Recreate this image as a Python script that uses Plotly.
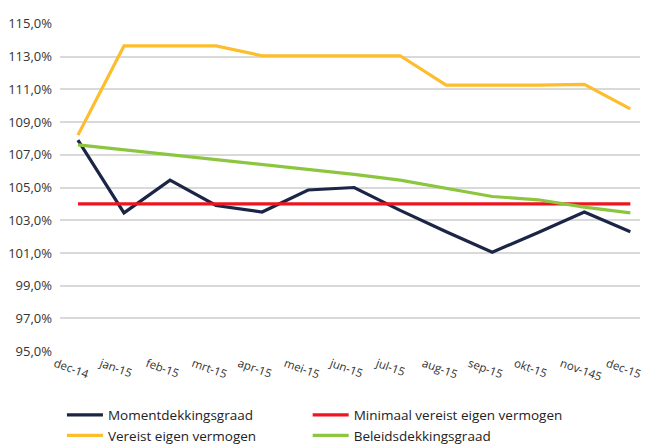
import plotly.graph_objects as go

months = ["dec-14", "jan-15", "feb-15", "mrt-15", "apr-15", "mei-15", "jun-15",
          "jul-15", "aug-15", "sep-15", "okt-15", "nov-145", "dec-15"]

moment = [107.9, 103.45, 105.45, 103.9, 103.5, 104.85, 105.0, 103.6, 102.3, 101.05, 102.25, 103.5, 102.3]
minimaal = [104.0] * 13
vereist = [108.2, 113.65, 113.65, 113.65, 113.05, 113.05, 113.05, 113.05, 111.25, 111.25, 111.25, 111.3, 109.8]
beleids = [107.6, 107.3, 107.0, 106.7, 106.4, 106.1, 105.8, 105.45, 104.95, 104.45, 104.25, 103.8, 103.45]

names = ["Momentdekkingsgraad", "Minimaal vereist eigen vermogen",
         "Vereist eigen vermogen", "Beleidsdekkingsgraad"]
series = [moment, minimaal, vereist, beleids]
colors = ["#1b2546", "#f0141e", "#fdbd2c", "#8cc63f"]
legend_ids = ["legend", "legend2", "legend", "legend2"]

fig = go.Figure()
for n, s, c, lg in zip(names, series, colors, legend_ids):
    fig.add_trace(go.Scatter(x=months, y=s, name=n, mode="lines", legend=lg,
                             line=dict(color=c, width=3.2)))

legend_common = dict(orientation="v", xanchor="left", xref="container",
                     y=0.102, yref="container", yanchor="top", itemwidth=36,
                     font=dict(size=13.5, color="#222222"), bgcolor="rgba(0,0,0,0)")

fig.update_layout(
    width=645, height=445,
    margin=dict(l=60, r=5, t=23, b=93, autoexpand=False),
    paper_bgcolor="white", plot_bgcolor="white",
    separators=",.",
    font=dict(family="Open Sans, sans-serif", size=12, color="#333333"),
    xaxis=dict(range=[-0.39, 12.21], tickangle=20, showgrid=False, automargin=False,
               ticks="", tickfont=dict(size=11.5, color="#333333"), ticklabelshift=-23,
               ticklabelstandoff=2,
               showline=False, zeroline=False),
    yaxis=dict(range=[94.95, 115.05], tick0=95, dtick=2, tickformat=".1f",
               ticksuffix="%", showgrid=True, gridcolor="#d9d9d9", gridwidth=2,
               automargin=False, ticklabelstandoff=7,
               zeroline=False, ticks="", tickfont=dict(size=13, color="#333333")),
    showlegend=True,
    legend=dict(x=0.096, **legend_common),
    legend2=dict(x=0.477, **legend_common),
)

fig.write_html("out.html", config={"displayModeBar": False},
               post_script="document.body.style.margin='0';")
